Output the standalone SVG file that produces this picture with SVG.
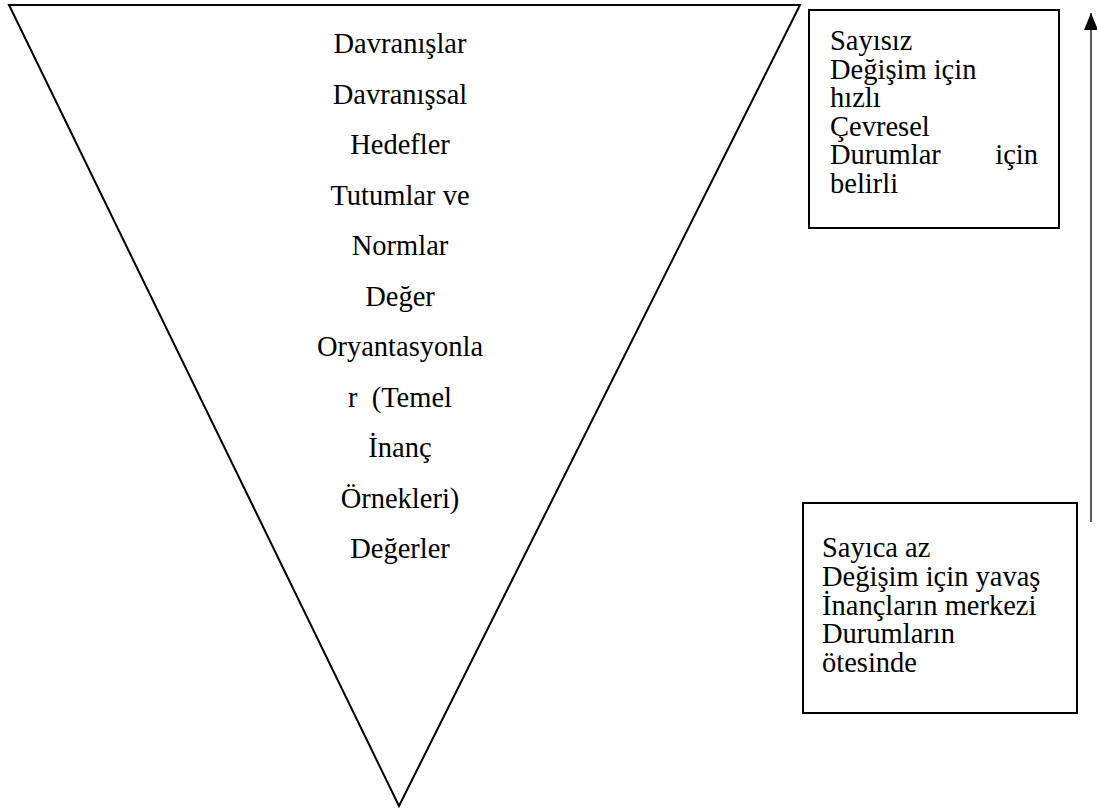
<svg xmlns="http://www.w3.org/2000/svg" width="1097" height="811" viewBox="0 0 1097 811">
<style>
text{font-family:'Liberation Serif','Times New Roman',Tinos,'DejaVu Serif',serif;font-size:28.5px;fill:#000}
.c{text-anchor:middle}
.box{fill:none;stroke:#000;stroke-width:2}
</style>
<defs>
<marker id="ah" markerWidth="17" markerHeight="14" refX="17" refY="7" orient="auto" markerUnits="userSpaceOnUse" viewBox="0 0 17 14">
<path d="M0 0 L17 7 L0 14 Z" fill="#000"/>
</marker>
</defs>
<rect width="1097" height="811" fill="#fff"/>
<g id="pyramid" font-family="Liberation Serif, Times New Roman, serif">
<polygon points="9,5 800,5 399,806" fill="none" stroke="#000" stroke-width="2" stroke-linejoin="miter"/>
<text class="c" x="400" y="53">Davranışlar</text>
<text class="c" x="400" y="103.5">Davranışsal</text>
<text class="c" x="400" y="154">Hedefler</text>
<text class="c" x="400" y="204.5">Tutumlar ve</text>
<text class="c" x="400" y="255">Normlar</text>
<text class="c" x="400" y="305.5">Değer</text>
<text class="c" x="400" y="356">Oryantasyonla</text>
<text class="c" x="400" y="406.5" xml:space="preserve">r  (Temel</text>
<text class="c" x="400" y="457">İnanç</text>
<text class="c" x="400" y="507.5">Örnekleri)</text>
<text class="c" x="400" y="558">Değerler</text>
</g>
<g id="box-top" font-family="Liberation Serif, Times New Roman, serif">
<rect class="box" x="809" y="10" width="250" height="218"/>
<text x="830" y="50">Sayısız</text>
<text x="830" y="78.5">Değişim için</text>
<text x="830" y="107">hızlı</text>
<text x="830" y="135.5">Çevresel</text>
<text x="830" y="164">Durumlar</text>
<text x="1038" y="164" text-anchor="end">için</text>
<text x="830" y="192.5">belirli</text>
</g>
<g id="box-bottom" font-family="Liberation Serif, Times New Roman, serif">
<rect class="box" x="803" y="503" width="274" height="210"/>
<text x="822" y="557">Sayıca az</text>
<text x="822" y="586">Değişim için yavaş</text>
<text x="822" y="615">İnançların merkezi</text>
<text x="822" y="643">Durumların</text>
<text x="822" y="672">ötesinde</text>
</g>
<g id="connectors">
<line x1="1091" y1="522" x2="1091" y2="13" stroke="#000" stroke-width="1.3" marker-end="url(#ah)"/>
</g>
</svg>
